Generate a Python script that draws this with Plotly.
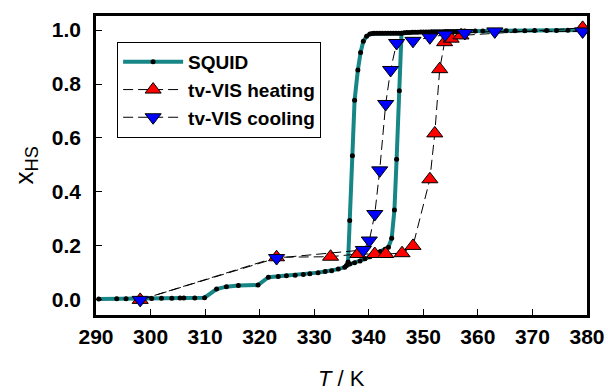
import plotly.graph_objects as go

# SQUID heating branch (T / K, x_HS)
squid_heat_T = [290.5, 293.8, 295.5, 297.5, 300.2, 302.0, 303.9, 305.4, 306.1, 308.1, 309.9,
                312.1, 313.9, 316.1, 319.7, 321.6, 323.4, 324.9, 326.5, 328.0, 329.2, 330.7,
                332.0, 333.2, 334.4, 335.6, 336.5, 337.4, 338.4, 339.3, 340.2, 341.1, 342.1,
                343.0, 343.6, 344.2, 344.7, 345.1, 345.6, 346.0,
                346.5, 347.0, 347.5, 348.0, 348.5, 349.0, 349.5, 350.0, 350.5, 351.0, 351.5,
                352.0, 352.5, 353.0, 353.5, 354.0, 354.5, 355.0, 355.5, 356.0, 356.5, 357.0,
                357.6, 359.5, 360.9, 363.0, 365.2, 366.8, 368.6, 370.4, 372.6, 374.4, 376.5,
                378.7, 380.0]
squid_heat_x = [0.003, 0.004, 0.004, 0.005, 0.005, 0.006, 0.006, 0.007, 0.007, 0.007, 0.008,
                0.040, 0.049, 0.053, 0.055, 0.084, 0.087, 0.089, 0.091, 0.094, 0.097, 0.101,
                0.105, 0.108, 0.114, 0.121, 0.133, 0.138, 0.144, 0.152, 0.160, 0.169, 0.179,
                0.188, 0.195, 0.228, 0.333, 0.521, 0.775, 0.988,
                0.990, 0.991, 0.991, 0.992, 0.992, 0.992, 0.993, 0.993, 0.993, 0.993, 0.994,
                0.994, 0.994, 0.994, 0.994, 0.995, 0.995, 0.995, 0.995, 0.995, 0.995, 0.996,
                0.996, 0.996, 0.996, 0.997, 0.997, 0.997, 0.997, 0.998, 0.998, 0.998, 0.999,
                0.999, 1.000]

# SQUID cooling branch
squid_cool_T = [346.0, 345.5, 345.0, 344.5, 344.0, 343.5, 343.0, 342.5, 342.0, 341.5, 341.0,
                340.6, 340.2, 339.6, 339.0, 338.5, 338.0, 337.4, 337.0, 336.5, 336.2, 335.9]
squid_cool_x = [0.988, 0.988, 0.988, 0.988, 0.988, 0.988, 0.988, 0.988, 0.988, 0.988, 0.988,
                0.987, 0.985, 0.977, 0.958, 0.917, 0.852, 0.74, 0.534, 0.294, 0.14, 0.127]

# tv-VIS heating
heat_T = [298.1, 323.1, 333.0, 338.0, 341.1, 343.1, 346.1, 348.1, 351.2, 352.1, 353.0,
          353.9, 355.1, 356.9, 379.2]
heat_x = [0.0, 0.158, 0.160, 0.170, 0.170, 0.170, 0.173, 0.200, 0.447, 0.617, 0.855,
          0.955, 0.968, 0.980, 1.008]

# tv-VIS cooling
cool_T = [379.2, 363.1, 357.6, 354.0, 351.2, 348.1, 345.1, 344.0, 343.1, 342.0, 341.1,
          340.1, 339.0, 323.1, 298.1]
cool_x = [0.995, 0.995, 0.989, 0.983, 0.973, 0.960, 0.952, 0.852, 0.726, 0.480, 0.318,
          0.220, 0.185, 0.155, 0.0]

x_ticks = [290, 300, 310, 320, 330, 340, 350, 360, 370, 380]
y_ticks = [0.0, 0.2, 0.4, 0.6, 0.8, 1.0]

TEAL = "#178686"
FONT = "Liberation Sans, Arial, sans-serif"

fig = go.Figure()
fig.add_trace(go.Scatter(x=squid_heat_T, y=squid_heat_x, mode="lines+markers", name="SQUID",
                         line=dict(color=TEAL, width=4),
                         marker=dict(color="black", size=5, symbol="circle")))
fig.add_trace(go.Scatter(x=squid_cool_T, y=squid_cool_x, mode="lines+markers", showlegend=False,
                         line=dict(color=TEAL, width=4),
                         marker=dict(color="black", size=5, symbol="circle")))
fig.add_trace(go.Scatter(x=heat_T, y=heat_x, mode="lines+markers", name="tv-VIS heating",
                         line=dict(color="black", width=1, dash="10px,5px"),
                         marker=dict(color="#ff0000", size=14, symbol="triangle-up",
                                     line=dict(color="black", width=1))))
fig.add_trace(go.Scatter(x=cool_T, y=cool_x, mode="lines+markers", name="tv-VIS cooling",
                         line=dict(color="black", width=1, dash="10px,5px"),
                         marker=dict(color="#0000ff", size=14, symbol="triangle-down",
                                     line=dict(color="black", width=1))))

axis_common = dict(showgrid=False, zeroline=False, showline=True, linecolor="black", linewidth=2.5,
                   mirror=True, ticks="inside", ticklen=6, tickwidth=1, tickcolor="black",
                   automargin=False,
                   tickfont=dict(family=FONT, size=21, color="black", weight="bold"))

fig.update_xaxes(range=[290, 380], tickvals=x_ticks, ticklabelstandoff=1, **axis_common)
fig.update_yaxes(range=[-0.056, 1.052], tickvals=y_ticks, tickformat=".1f",
                 ticklabelstandoff=8, **axis_common)

fig.update_layout(
    width=608, height=392,
    margin=dict(l=96, r=21, t=16, b=77),
    paper_bgcolor="white", plot_bgcolor="white",
    font=dict(family=FONT, color="black"),
    legend=dict(x=0.043, y=0.913, xanchor="left", yanchor="top",
                bordercolor="black", borderwidth=1, bgcolor="white",
                font=dict(family=FONT, size=19, color="black", weight="bold"),
                itemwidth=60, tracegroupgap=0),
    annotations=[
        dict(text="<i>T</i> / K", xref="paper", yref="paper", x=0.5, y=0, yshift=-63,
             xanchor="center", yanchor="middle", showarrow=False,
             font=dict(family=FONT, size=22, color="black")),
        dict(text="x<sub>HS</sub>", xref="paper", yref="paper", x=0, y=0.5, xshift=-71,
             xanchor="center", yanchor="middle", showarrow=False, textangle=-90,
             font=dict(family=FONT, size=26, color="black")),
    ],
)

fig.write_html("out.html")
